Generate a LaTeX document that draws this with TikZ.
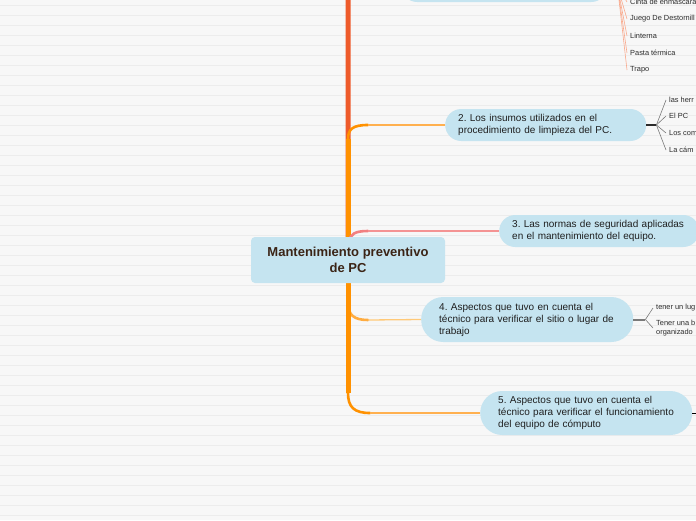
\documentclass[tikz,border=0pt]{standalone}
\usepackage{fontspec}
\setmainfont{Liberation Sans}
\frenchspacing
\usetikzlibrary{positioning, calc}
\definecolor{mmpaper}{HTML}{F7F7F7}
\definecolor{mmrule}{HTML}{ECECEC}
\definecolor{mmfill}{HTML}{C5E4F0}
\definecolor{mmroottext}{HTML}{3B2416}
\definecolor{mmtext}{HTML}{1F1F1F}
\definecolor{mmred}{HTML}{EE5A2A}
\definecolor{mmorange}{HTML}{FF9100}
\definecolor{mmorangelt}{HTML}{FFB04F}
\definecolor{mmpeach}{HTML}{FFC978}
\definecolor{mmpink}{HTML}{F28080}
\definecolor{mmsalmon}{HTML}{F9A98C}
\definecolor{mmgray}{HTML}{7A7A7A}
\definecolor{mmdark}{HTML}{2B2B2B}
\pgfdeclarelayer{paper}
\pgfdeclarelayer{background}
\pgfsetlayers{paper,background,main}
\tikzset{
  mmroot/.style={rectangle, rounded corners=4pt, fill=mmfill, minimum width=194pt, minimum height=46pt,
    inner sep=0pt, font=\fontsize{13}{16.5}\selectfont\bfseries, text=mmroottext, align=center},
  mmtopic/.style={rectangle, fill=mmfill, anchor=west, align=left, inner ysep=0pt,
    font=\fontsize{10}{12}\selectfont, text=mmtext},
  mmleaf/.style={anchor=west, inner xsep=3pt, inner ysep=0pt, align=left,
    font=\fontsize{7.4}{8.2}\selectfont, text=mmdark},
  trunk/.style={line width=5pt},
  curl/.style={line width=2.6pt, line cap=round},
  limb/.style={line width=1.3pt},
  twig/.style={line width=0.6pt},
  stub/.style={line width=1.5pt},
}

\begin{document}
\begin{tikzpicture}[x=1pt, y=-1pt]
    \useasboundingbox (0,0) rectangle (696,520);
    % ruled paper
    \begin{pgfonlayer}{paper}
      \fill[mmpaper] (0,0) rectangle (696,520);
      \foreach \k in {0,...,51}
        \draw[mmrule, line width=0.8pt] (0,{5+10*\k}) -- (696,{5+10*\k});
    \end{pgfonlayer}

    % topics
    \node[mmroot] (root) at (348,260) {Mantenimiento preventivo\\de PC};
    \node[mmtopic, text width=180pt, inner xsep=13pt, minimum height=32pt, rounded corners=16pt] (n1) at (401,-14) {};
    \node[mmtopic, text width=175pt, inner xsep=13pt, minimum height=32pt, rounded corners=16pt] (n2) at (445,125)
      {2. Los insumos utilizados en el\\procedimiento de limpieza del PC.};
    \node[mmtopic, text width=174pt, inner xsep=13pt, minimum height=32pt, rounded corners=16pt] (n3) at (499,231)
      {3. Las normas de seguridad aplicadas\\en el mantenimiento del equipo.};
    \node[mmtopic, text width=176pt, inner xsep=18pt, minimum height=45pt, rounded corners=22pt] (n4) at (421,319.5)
      {4. Aspectos que tuvo en cuenta el\\t\'ecnico para verificar el sitio o lugar de\\trabajo};
    \node[mmtopic, text width=176pt, inner xsep=18pt, minimum height=44pt, rounded corners=22pt] (n5) at (480,413)
      {5. Aspectos que tuvo en cuenta el\\t\'ecnico para verificar el funcionamiento\\del equipo de c\'omputo};

    % branches
    \begin{pgfonlayer}{background}
      \draw[trunk, mmorange!80] (root.center) -- (348,303) coordinate (b4);
      \draw[curl, mmorange!75] (b4) .. controls (348,315) and (354,320) .. (368,320) coordinate (c4);
      \draw[limb, mmpeach] (c4) -- (n4.west);
      \draw[trunk, mmred, rounded corners=12pt] (root.center) |- (n1.west);
      \draw[trunk, mmorange] (root.center) -- (348,393) coordinate (b5);
      \draw[curl, mmorange] (b5) .. controls (348,407) and (354,413) .. (370,413) coordinate (c5);
      \draw[limb, mmorangelt] (c5) -- (n5.west);
      \draw[trunk, mmorange] (root.center) -- (348,139) coordinate (b2);
      \draw[curl, mmorange] (b2) .. controls (348,129) and (353,125) .. (368,125) coordinate (c2);
      \draw[limb, mmorangelt] (c2) -- (n2.west);
      \draw[curl, mmpink] (349,242) .. controls (350,234) and (355,231) .. (368,231) coordinate (c3);
      \draw[limb, mmpink!85] (c3) -- (n3.west);
    \end{pgfonlayer}

    % leaves of 1
    \draw[stub, mmsalmon] (n1.east) -- ++(10,0) coordinate (f1);
    \foreach \txt/\y in {Cinta de enmascara/2, Juego De Destornill/19, Linterna/36, Pasta t\'ermica/53, Trapo/70} {
      \node[mmleaf] (l1-\y) at (627,\y) {\txt};
      \draw[twig, mmsalmon] (f1) -- (l1-\y.west);
    }
    % leaves of 2
    \draw[stub, mmdark] (n2.east) -- ++(10,0) coordinate (f2);
    \foreach \txt/\y in {las herr/100, El PC/116, Los com/133, La c\'am/150} {
      \node[mmleaf] (l2-\y) at (666,\y) {\txt};
      \draw[twig, mmgray] (f2) -- (l2-\y.west);
    }
    % leaves of 4
    \draw[line width=2pt, mmgray] (n4.east) -- ++(12,0) coordinate (f4);
    \foreach \txt/\y in {tener un lug/308, {Tener una b\\organizado}/328} {
      \node[mmleaf] (l4-\y) at (653,\y) {\txt};
      \draw[twig, mmgray] (f4) -- (l4-\y.west);
    }
    % leaf stub of 5
    \draw[line width=1pt, black] (n5.east) -- ++(10,0) coordinate (f5);
  \end{tikzpicture}
\end{document}
